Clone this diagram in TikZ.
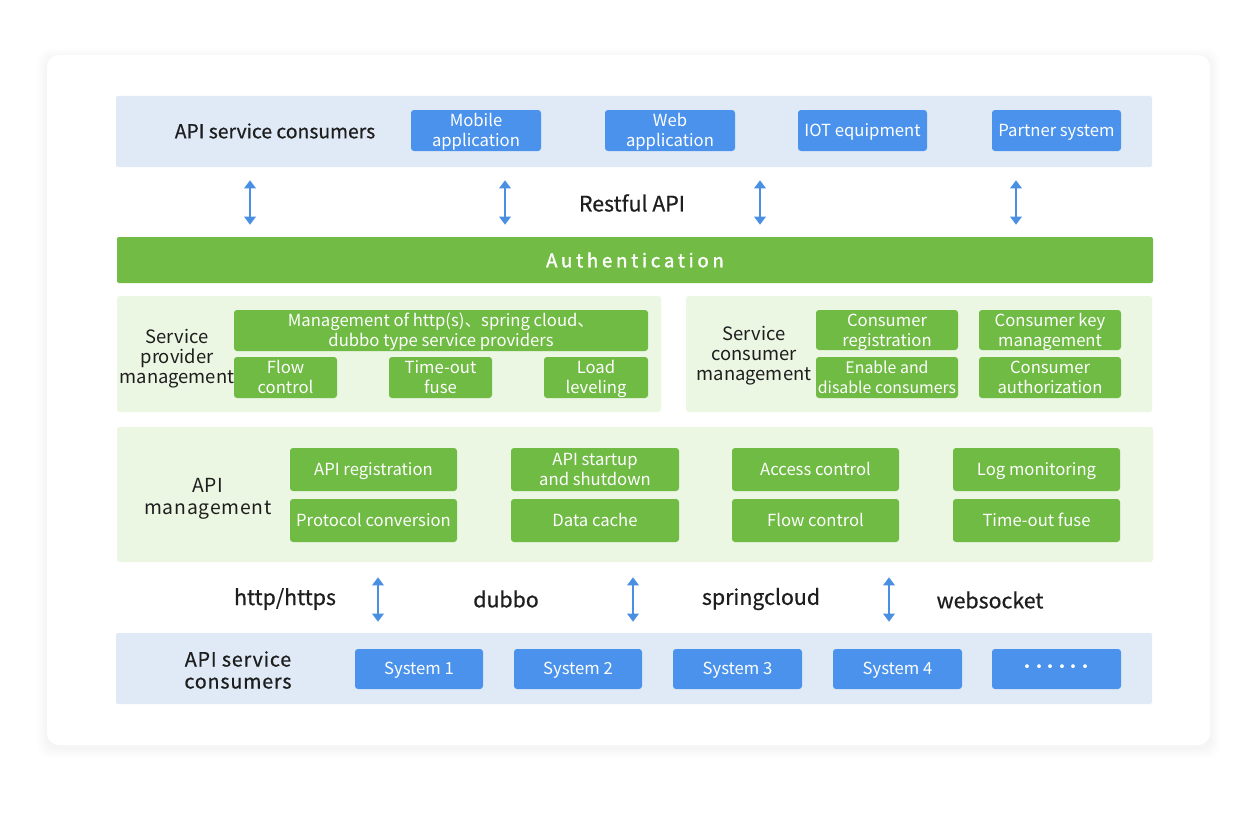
\documentclass[tikz,border=0pt]{standalone}
\usepackage{fontspec}
\setmainfont{Noto Sans CJK SC}
\newfontfamily\medfont{Noto Sans CJK SC}[FakeBold=0.6]
\newfontfamily\medsfont{Noto Sans CJK SC}[FakeBold=0.6,LetterSpace=4]
\newfontfamily\spfont{Noto Sans CJK SC}[LetterSpace=4]
\newfontfamily\authfont{Noto Sans CJK SC}[FakeBold=1.6,LetterSpace=20]
\usetikzlibrary{arrows.meta}
\definecolor{bandblue}{HTML}{E0EAF7}
\definecolor{boxblue}{HTML}{4A92EC}
\definecolor{boxgreen}{HTML}{6FBB44}
\definecolor{panelgreen}{HTML}{EBF6E3}
\definecolor{authgreen}{HTML}{72BC45}
\definecolor{arrowblue}{HTML}{4A90E2}
\definecolor{txt}{HTML}{1E1E1E}
\newcommand\mybox[7]{\node[#6, minimum width={(#4-#2)*0.75pt}, minimum height={(#5-#3)*0.75pt}] (#1) at ({(#2+#4)/2},{(#3+#5)/2}) {#7};}
\newcommand\dotrow{{\fontsize{13.5}{13.5}\selectfont\makebox[8.6pt]{•}\makebox[8.6pt]{•}\makebox[8.6pt]{•}\makebox[8.6pt]{•}\makebox[8.6pt]{•}\makebox[8.6pt]{•}}}
\tikzset{
  band/.style={fill=bandblue, draw=none, inner sep=0pt, rounded corners=1.5pt},
  panel/.style={fill=panelgreen, draw=none, inner sep=0pt, rounded corners=2pt},
  bbox/.style={fill=boxblue, text=white, rounded corners=2.25pt, inner sep=0pt, align=center, font=\fontsize{12.5}{15}\selectfont},
  gbox/.style={fill=boxgreen, text=white, rounded corners=2.25pt, inner sep=0pt, align=center, font=\fontsize{12.5}{15}\selectfont},
  one/.style={text height=0.86em, text depth=0pt},
  two/.style={text height=24.3pt, text depth=0pt},
  authbar/.style={fill=authgreen, text=white, rounded corners=1.5pt, inner sep=0pt, font=\authfont\fontsize{14}{16}\selectfont},
  lbl/.style={text=txt, align=center, inner sep=0pt, font=\medfont\fontsize{14.5}{16.5}\selectfont},
  plbl/.style={text=txt, align=center, inner sep=0pt, font=\fontsize{13.8}{15}\selectfont},
  proto/.style={text=txt, align=center, inner sep=0pt, font=\medfont\fontsize{16}{17}\selectfont},
  arr/.style={draw=arrowblue, line width=1.6pt, {Triangle[width=8.5pt,length=6pt]}-{Triangle[width=8.5pt,length=6pt]}}
}
\begin{document}
\begin{tikzpicture}[x=0.75pt,y=-0.75pt]
\useasboundingbox (0,0) rectangle (1260,817);
\fill[white] (0,0) rectangle (1260,817);
% card shadow
\foreach \i in {1,...,10}
  \fill[black!50!blue, opacity=0.0025, rounded corners=9pt] (47-\i,55-\i+3) rectangle (1210+\i,745+\i+3);
\fill[white, rounded corners=9pt] (47,55) rectangle (1210,745);

% top band
\mybox{top}{116}{96}{1152}{167}{band}{}
\node[lbl] (topl) at (275,131) {API service consumers};
\mybox{mob}{411}{110}{541}{151}{bbox,two}{Mobile\\application}
\mybox{web}{605}{110}{735}{151}{bbox,two}{Web\\application}
\mybox{iot}{798}{110}{927}{151}{bbox,one}{IOT equipment}
\mybox{part}{992}{110}{1121}{151}{bbox,one}{Partner system}

% authentication
\mybox{auth}{117}{237}{1153}{283}{authbar}{Authentication}
\node[proto] (rest) at (632,203) {Restful API};
\coordinate (c1) at (250,0);
\coordinate (c2) at (505,0);
\coordinate (c3) at (760,0);
\coordinate (c4) at (1016,0);
\foreach \c in {c1,c2,c3,c4}
  \draw[arr, shorten <=9.75pt, shorten >=9pt] (top.south -| \c) -- (auth.north -| \c);

% service provider management
\mybox{spm}{117}{296}{661}{412}{panel}{}
\node[plbl] (spml) at (177,359) {Service\\provider\\management};
\mybox{mgmt}{234}{310}{648}{351}{gbox,two}{Management of http(s)、spring cloud、\\dubbo type service providers}
\mybox{flow1}{234}{357}{337}{398}{gbox,two}{Flow\\control}
\mybox{fuse1}{389}{357}{492}{398}{gbox,two}{Time-out\\fuse}
\mybox{load}{544}{357}{648}{398}{gbox,two}{Load\\leveling}

% service consumer management
\mybox{scm}{686}{296}{1152}{412}{panel}{}
\node[plbl] (scml) at (754,356) {Service\\consumer\\management};
\mybox{creg}{816}{310}{958}{350}{gbox,two}{Consumer\\registration}
\mybox{ckey}{979}{310}{1121}{350}{gbox,two}{Consumer key\\management}
\mybox{cen}{816}{357}{958}{398}{gbox,two,font=\fontsize{11.9}{15}\selectfont}{Enable and\\disable consumers}
\mybox{cauth}{979}{357}{1121}{398}{gbox,two}{Consumer\\authorization}

% API management
\mybox{apim}{117}{427}{1153}{562}{panel}{}
\node[plbl, font=\spfont\fontsize{14.5}{16.5}\selectfont] (apiml) at (208,499) {API\\management};
\mybox{areg}{290}{448}{457}{491}{gbox,one}{API registration}
\mybox{astart}{511}{448}{679}{491}{gbox,two}{API startup\\and shutdown}
\mybox{acc}{732}{448}{899}{491}{gbox,one}{Access control}
\mybox{alog}{953}{448}{1120}{491}{gbox,one}{Log monitoring}
\mybox{aproto}{290}{499}{457}{542}{gbox,one}{Protocol conversion}
\mybox{acache}{511}{499}{679}{542}{gbox,one}{Data cache}
\mybox{aflow}{732}{499}{899}{542}{gbox,one}{Flow control}
\mybox{afuse}{953}{499}{1120}{542}{gbox,one}{Time-out fuse}

% bottom band
\mybox{bot}{116}{633}{1152}{704}{band}{}
\node[lbl, font=\medsfont\fontsize{14.8}{16.5}\selectfont] (botl) at (238,670) {API service\\consumers};
\mybox{s1}{355}{649}{483}{689}{bbox,one}{System 1}
\mybox{s2}{514}{649}{642}{689}{bbox,one}{System 2}
\mybox{s3}{673}{649}{802}{689}{bbox,one}{System 3}
\mybox{s4}{833}{649}{962}{689}{bbox,one}{System 4}
\mybox{s5}{992}{649}{1121}{689}{bbox}{\dotrow}

% protocols
\node[proto] (http) at (285,599) {http/https};
\node[proto] (dubbo) at (506,599) {dubbo};
\node[proto] (spring) at (761,599) {springcloud};
\node[proto] (ws) at (990,600) {websocket};
\coordinate (d1) at (378,0);
\coordinate (d2) at (633,0);
\coordinate (d3) at (889,0);
\foreach \c in {d1,d2,d3}
  \draw[arr, shorten <=11.25pt, shorten >=8.25pt] (apim.south -| \c) -- (bot.north -| \c);
\end{tikzpicture}
\end{document}
